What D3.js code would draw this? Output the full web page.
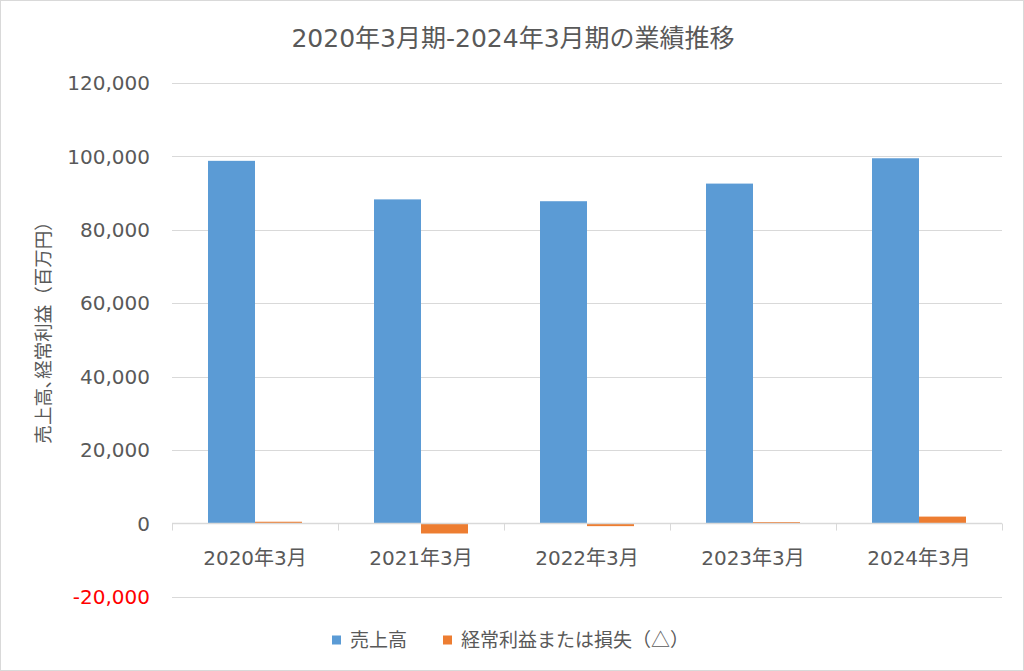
<!DOCTYPE html>
<html><head><meta charset="utf-8">
<script src="https://cdn.jsdelivr.net/npm/d3@7"></script>
<style>body{margin:0;background:#fff}svg{display:block}</style>
</head><body>
<svg id="c" width="1024" height="671"></svg>
<script>
const categories = ["2020年3月","2021年3月","2022年3月","2023年3月","2024年3月"];
const seriesNames = ["売上高","経常利益または損失（△）"];
const sales = [98800, 88300, 87800, 92600, 99500];
const ordinaryIncome = [500, -2700, -700, 400, 1900];
const yTicks = [-20000, 0, 20000, 40000, 60000, 80000, 100000, 120000];
const title = "2020年3月期-2024年3月期の業績推移";
const yTitle = "売上高､経常利益（百万円）";
const colors = ["#5B9BD5", "#ED7D31"];

const W = 1024, H = 671;
const plot = {left: 172, right: 1002, top: 83, bottom: 597};
const mixFont = "'DejaVu Sans','Noto Sans CJK JP',sans-serif";
const jpFont = "'Noto Sans CJK JP',sans-serif";
const textCol = "#595959";

const svg = d3.select("#c");
svg.append("rect").attr("x",0.5).attr("y",0.5).attr("width",W-1).attr("height",H-1)
  .attr("fill","#fff").attr("stroke","#D9D9D9");

const y = d3.scaleLinear().domain([-20000,120000]).range([plot.bottom, plot.top]);
const x0 = d3.scaleBand().domain(categories).range([plot.left, plot.right]).paddingInner(0).paddingOuter(0);
const x1 = d3.scaleBand().domain(seriesNames).range([36, 130]);
const fmt = d => d3.format(",")(d).replace("\u2212", "-");

// gridlines
svg.append("g").selectAll("line").data(yTicks.filter(d=>d!==0)).join("line")
  .attr("x1",plot.left).attr("x2",plot.right)
  .attr("y1",d=>Math.round(y(d))+0.5).attr("y2",d=>Math.round(y(d))+0.5)
  .attr("stroke","#D9D9D9").attr("stroke-width",1);

// y tick labels
svg.append("g").selectAll("text").data(yTicks).join("text")
  .attr("x",150).attr("y",d=>y(d)).attr("dy","0.36em")
  .attr("text-anchor","end").attr("font-family",mixFont).attr("font-size",20)
  .attr("fill",d=>d<0?"#FF0000":textCol)
  .text(fmt);

// bars
const data = categories.map((c,i)=>({c, vals:[sales[i], ordinaryIncome[i]]}));
const g = svg.append("g").selectAll("g").data(data).join("g")
  .attr("transform",d=>`translate(${x0(d.c)},0)`);
g.selectAll("rect").data(d=>d.vals.map((v,j)=>({v,j}))).join("rect")
  .attr("x",d=>x1(seriesNames[d.j]))
  .attr("width",x1.bandwidth())
  .attr("y",d=>y(Math.max(0,d.v)))
  .attr("height",d=>Math.abs(y(d.v)-y(0)))
  .attr("fill",d=>colors[d.j]);

// zero axis line
svg.append("line").attr("x1",plot.left).attr("x2",plot.right)
  .attr("y1",y(0)).attr("y2",y(0)).attr("stroke","#D9D9D9").attr("stroke-width",1.5);

// category ticks
const bounds = categories.map(c=>x0(c)).concat([plot.right]);
svg.append("g").selectAll("line").data(bounds).join("line")
  .attr("x1",d=>Math.round(d)+0.5).attr("x2",d=>Math.round(d)+0.5)
  .attr("y1",y(0)).attr("y2",y(0)+7)
  .attr("stroke","#D9D9D9").attr("stroke-width",1);

// category labels
svg.append("g").selectAll("text").data(categories).join("text")
  .attr("x",d=>x0(d)+x0.bandwidth()/2).attr("y",558).attr("dy","0.36em")
  .attr("text-anchor","middle").attr("font-family",mixFont).attr("font-size",20)
  .attr("fill",textCol).text(d=>d);

// title
svg.append("text").attr("x",513).attr("y",38).attr("dy","0.36em")
  .attr("text-anchor","middle").attr("font-family",mixFont).attr("font-size",25)
  .attr("fill",textCol).text(title);

// y axis title
svg.append("text").attr("transform","translate(43,328) rotate(-90)")
  .attr("dy","0.36em").attr("text-anchor","middle").attr("font-family",jpFont)
  .attr("font-size",18.5).attr("fill",textCol).text(yTitle);

// legend
const legendX = [332, 443];
const lg = svg.append("g").selectAll("g").data(seriesNames).join("g")
  .attr("transform",(d,i)=>`translate(${legendX[i]},640)`);
lg.append("rect").attr("x",0).attr("y",-4.5).attr("width",9).attr("height",9)
  .attr("fill",(d,i)=>colors[i]);
lg.append("text").attr("x",18).attr("y",0).attr("dy","0.36em")
  .attr("font-family",jpFont).attr("font-size",19).attr("fill",textCol).text(d=>d);
</script>
</body></html>
